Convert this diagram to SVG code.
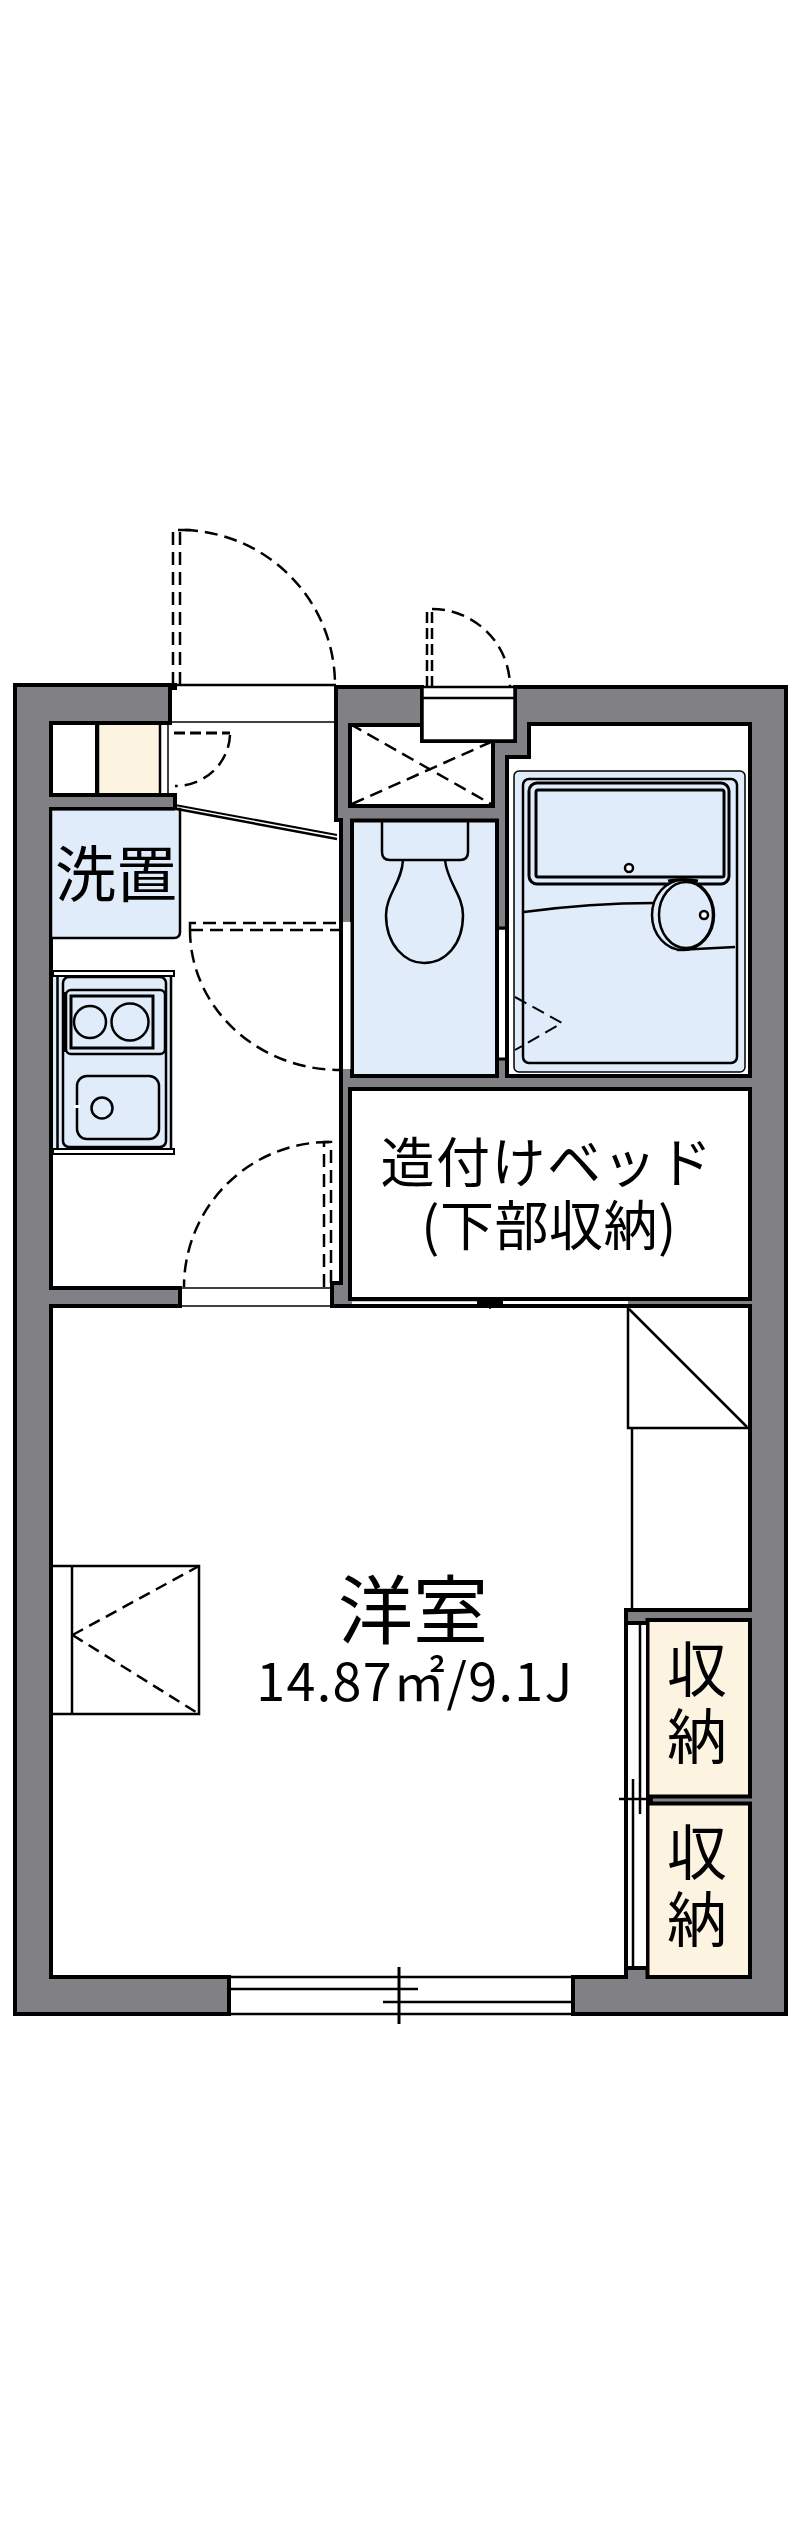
<svg xmlns="http://www.w3.org/2000/svg" width="800" height="2539" viewBox="0 0 800 2539">
<defs>
<style>
.wall{fill:#818085;stroke:#000;stroke-width:4;stroke-linejoin:miter}
.room{fill:#fff;stroke:#000;stroke-width:4}
.blue{fill:#e1ecfb;stroke:#000;stroke-width:4}
.cream{fill:#fdf3e1;stroke:#000;stroke-width:4}
.gap{fill:#fff;stroke:none}
.l1{fill:none;stroke:#000;stroke-width:1.5}
.l2{fill:none;stroke:#000;stroke-width:2.5}
.l3{fill:none;stroke:#000;stroke-width:3}
.fb{fill:#e1ecfb;stroke:#000;stroke-width:2.5}
.fb1{fill:#e1ecfb;stroke:#000;stroke-width:1.5}
.d{fill:none;stroke:#000;stroke-width:2.5;stroke-dasharray:13 7}
.dh{fill:none;stroke:#000;stroke-width:3;stroke-dasharray:11 5}
text{font-family:"Noto Sans CJK JP","Noto Sans",sans-serif;fill:#000;text-anchor:middle}
</style>
</defs>
<rect width="800" height="2539" fill="#fff"/>
<g id="walls">
<path class="wall" d="M15,685H170V723H51V795H175V809H51V1288H180V1306H51V1977H229V2014H15Z"/>
<path class="wall" d="M336,687H422V741H515V687H786V2014H573V1977H626V1610H750V1306H332V1283H341V820H336Z"/>
</g>
<g id="closet-entry">
<rect class="room" x="51" y="723" width="46" height="72"/>
<rect x="99" y="725" width="60" height="68" fill="#fdf3e1"/>
<path class="l2" d="M98,723V795M160,725V793"/>
<path class="l1" d="M168,723V793"/>
</g>
<g id="washer">
<path class="blue" d="M51,809H180V932Q180,938 174,938H51Z" style="stroke-width:2.5"/>
<path d="M51,809H175" class="l3"/>
<text x="116" y="897" font-size="61">洗置</text>
</g>
<g id="kitchen">
<rect x="53" y="976" width="119" height="172" fill="#e1ecfb"/>
<rect x="53" y="971" width="121" height="5" fill="#fff" stroke="#000" stroke-width="2"/>
<rect x="53" y="1149" width="121" height="5" fill="#fff" stroke="#000" stroke-width="2"/>
<path class="l2" d="M57.5,976V1149M171,976V1149"/>
<rect class="fb" x="63" y="977" width="103" height="170" rx="6"/>
<rect class="fb" x="66" y="990" width="99" height="64" rx="5"/>
<path class="l3" d="M65,992V1052"/>
<rect class="l3" x="71" y="996" width="82" height="52"/>
<circle class="l2" cx="90" cy="1022" r="16"/>
<circle class="l2" cx="130" cy="1022" r="18.5"/>
<rect class="l2" x="77" y="1076" width="82" height="63" rx="10"/>
<circle class="l2" cx="102" cy="1108" r="10.5"/>
<rect x="74" y="1105" width="6" height="3" fill="#fff"/>
</g>
<g id="entry-door">
<path class="l2" d="M172,685H336"/>
<path class="l1" d="M172,722H336"/>
<rect x="172" y="683" width="5" height="7" fill="#000"/>
<path class="d" d="M173,685V530H194"/>
<path class="d" d="M180,685V530A155,155 0 0 1 335,685"/>
<path class="dh" d="M174,733H230"/>
<path class="d" d="M230,735A55,53 0 0 1 175,786"/>
<path d="M175,805L337,835" stroke="#000" stroke-width="2" fill="none"/>
<path d="M177,809L337,839" stroke="#000" stroke-width="2.5" fill="none"/>
</g>
<g id="ps">
<path class="room" d="M350,725H422V741H493V806H350Z"/>
<path class="d" d="M350,724L491,804M352,804L491,742"/>
</g>
<g id="bath-entry">
<rect class="room" x="422" y="687" width="93" height="54" style="stroke:none"/>
<path class="l2" d="M422,698H515"/>
<path class="l2" d="M422,687H515"/>
<path class="l3" d="M422,687V741H515V687" style="stroke-width:3.5"/>
<path class="dh" d="M427,687V609" style="stroke-width:2.5"/>
<path class="dh" d="M432,687V609" style="stroke-width:2.5"/>
<path class="d" d="M432,609A78,78 0 0 1 510,687"/>
</g>
<g id="toilet">
<rect class="blue" x="352" y="820.500" width="145" height="255.500"/>
<rect class="gap" x="343" y="922" width="7.500" height="147"/>
<path d="M341,920V1070" stroke="#000" stroke-width="3"/>
<path class="l2" d="M382,822V852Q382,860 390,860H460Q468,860 468,852V822"/>
<path class="l2" d="M403,860C402,882 386,895 386,915C386,945 405,963 424,963C445,963 463,945 463,915C463,895 447,882 445,860"/>
</g>
<g id="bath">
<path class="room" d="M529,724H750V1076H507V757H529Z"/>
<rect class="gap" x="499" y="930" width="6" height="128"/>
<path d="M497.500,928V1060" stroke="#000" stroke-width="3"/>
<path d="M497,928H507M496,1059H507" stroke="#000" stroke-width="3"/>
<rect class="fb1" x="514" y="771" width="231" height="301" rx="5"/>
<rect class="fb" x="523" y="779" width="214" height="284" rx="6"/>
<rect class="l3" x="529" y="783" width="200" height="101" rx="8"/>
<rect class="l3" x="536" y="790" width="188" height="87" rx="2"/>
<circle cx="629" cy="868" r="4" fill="#fff" stroke="#000" stroke-width="2.5"/>
<path class="l2" d="M524,912Q590,903 655,903"/>
<path class="l2" d="M677,950L735,947"/>
<ellipse cx="683" cy="915" rx="31" ry="35" fill="#e1ecfb" stroke="#000" stroke-width="2.5"/>
<ellipse cx="686" cy="915" rx="27" ry="33" fill="#e1ecfb" stroke="#000" stroke-width="2.5"/>
<path d="M668,881Q683,878 698,881" stroke="#000" stroke-width="3" fill="none"/>
<circle cx="704" cy="915" r="4" fill="#fff" stroke="#000" stroke-width="2.5"/>
<path class="d" d="M515,997L562,1023L515,1050" style="stroke-width:2"/>
</g>
<g id="bed">
<rect class="room" x="350" y="1089" width="400" height="210"/>
<text font-size="54"><tspan x="547" y="1183" letter-spacing="1.500">造付けベッド</tspan><tspan x="549" y="1246" letter-spacing="0.500">(下部収納)</tspan></text>
</g>
<g id="bed-rail">
<rect class="gap" x="352" y="1301.500" width="125" height="2.500"/>
<rect class="gap" x="503" y="1301" width="125" height="3"/>
<rect x="477" y="1298" width="26" height="9" fill="#000"/>
<path d="M490,1297V1309" stroke="#000" stroke-width="1.500"/>
<path class="l1" d="M180,1288H332"/>
<path class="l1" d="M180,1306H332"/>
</g>
<g id="hall-doors">
<path class="d" d="M190,930V923H339"/>
<path class="d" d="M190,930H339"/>
<path class="d" d="M190,930A150,140 0 0 0 340,1070"/>
<path class="d" d="M324,1287V1142H331V1287"/>
<path class="d" d="M329,1142A145,145 0 0 0 184,1287"/>
</g>
<g id="closet-west">
<path class="l2" d="M628,1308V1428H750"/>
<path class="l2" d="M629,1309L747,1427"/>
<path class="l2" d="M632,1428V1610"/>
</g>
<g id="storage">
<rect class="cream" x="647.500" y="1620" width="102.500" height="176.500"/>
<rect class="cream" x="647.500" y="1803.500" width="102.500" height="173.500"/>
<rect class="gap" x="628" y="1625" width="18" height="343"/>
<path d="M627,1623H647M628,1968H647" stroke="#000" stroke-width="4" fill="none"/>
<path class="l2" d="M633,1779V1970M640,1625V1814"/>
<path class="l2" d="M619,1799H647"/>
<rect x="646" y="1795" width="7" height="10" fill="#000"/>
<text font-size="60"><tspan x="697" y="1692">収</tspan><tspan x="697" y="1759">納</tspan></text>
<text font-size="60"><tspan x="697" y="1875">収</tspan><tspan x="697" y="1942">納</tspan></text>
</g>
<g id="cabinet">
<path class="l2" d="M53,1566H199V1714H53"/>
<path class="l2" d="M72,1566V1714"/>
<path class="d" d="M72.500,1635L199,1566M72.500,1635L199,1714" style="stroke-dasharray:12 7"/>
</g>
<g id="window">
<path class="l2" d="M229,1977H573M229,2014H573"/>
<path class="l2" d="M229,1989H399M399,2002H573"/>
<path class="l2" d="M399,1967V2024" style="stroke-width:3"/>
<path class="l2" d="M383,2002H399M399,1989H418"/>
</g>
<g id="west-room">
<text><tspan x="413" y="1638" font-size="75">洋室</tspan><tspan x="415" y="1701" font-size="52" letter-spacing="1.400">14.87㎡/9.1J</tspan></text>
</g>
</svg>
